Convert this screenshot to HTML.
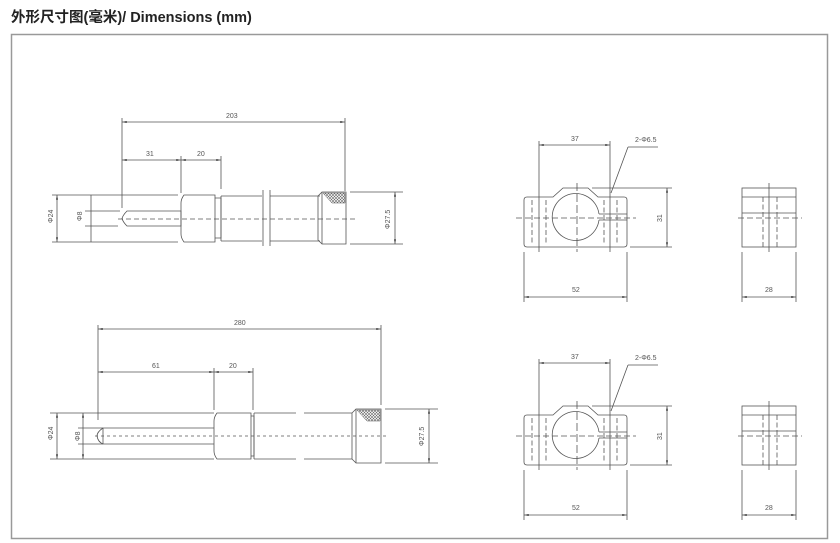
<!DOCTYPE html>
<html><head><meta charset="utf-8"><style>
html,body{margin:0;padding:0;background:#fff;width:840px;height:543px;overflow:hidden}
svg{display:block}
text{font-family:"Liberation Sans",sans-serif;font-size:7px;fill:#555}
.t{font-family:"Liberation Sans","Noto Sans CJK SC",sans-serif;font-size:14.5px;font-weight:bold;fill:#222}
</style></head><body>
<svg width="840" height="543" viewBox="0 0 840 543" xmlns="http://www.w3.org/2000/svg">
<defs>
<pattern id="h" width="3" height="3" patternUnits="userSpaceOnUse">
<rect width="3" height="3" fill="#fff"/><path d="M0 0L3 3M3 0L0 3" stroke="#666" stroke-width="0.6"/></pattern>
<marker id="a" viewBox="0 0 8 4" refX="8" refY="2" markerWidth="6" markerHeight="3" orient="auto-start-reverse"><path d="M0 0L8 2L0 4z" fill="#555"/></marker>
</defs>
<text class="t" x="11" y="22">外形尺寸图(毫米)/ Dimensions (mm)</text>
<rect x="11.5" y="34.5" width="816" height="504" fill="none" stroke="#999" stroke-width="1.5"/>

<g stroke="#555" stroke-width="0.8" fill="none">
<!-- TOP ROD -->
<path d="M122 122H345" marker-start="url(#a)" marker-end="url(#a)"/>
<path d="M122 160H181" marker-start="url(#a)" marker-end="url(#a)"/>
<path d="M181 160H221" marker-start="url(#a)" marker-end="url(#a)"/>
<path d="M122 118V208M181 156V193M221 156V189M345 118V191"/>
<path d="M52 195H178M52 242H178"/>
<path d="M57 195V242" marker-start="url(#a)" marker-end="url(#a)"/>
<path d="M85 211H120M85 226H118"/>
<path d="M91 195V242"/>
<path d="M127 211H181V226H127Q123 222 122 218.5Q123 215 127 211Z"/>
<path d="M184 195H215V242H184Q181 238 181 234V203Q181 199 184 195Z"/>
<path d="M215 198H221V238H215"/>
<path d="M221 196H262M221 241H262M221 196V241"/>
<path d="M263 190V246M270 190V246"/>
<path d="M270 196H320M270 241H320"/>
<path d="M322 192H346V244H322L318 240V196Z"/>
<path d="M322 192V244"/>
<path d="M323 193H345V203H332Z" fill="url(#h)" stroke-width="0.5"/>
<path d="M118 219H355" stroke-dasharray="5 3"/>
<path d="M350 192H403M350 244H403"/>
<path d="M395 192V244" marker-start="url(#a)" marker-end="url(#a)"/>

<!-- BOTTOM ROD -->
<path d="M98 329H381" marker-start="url(#a)" marker-end="url(#a)"/>
<path d="M98 372H214" marker-start="url(#a)" marker-end="url(#a)"/>
<path d="M214 372H253" marker-start="url(#a)" marker-end="url(#a)"/>
<path d="M98 325V420M214 368V410M253 368V410M381 325V405"/>
<path d="M50 413H214M50 459H214"/>
<path d="M57 413V459" marker-start="url(#a)" marker-end="url(#a)"/>
<path d="M78 428H214M78 444H214"/>
<path d="M83 413V459" marker-start="url(#a)" marker-end="url(#a)"/>
<path d="M103 428Q97 432 97 436Q98 442 103 444M103 428V444"/>
<path d="M217 413H251V459H217Q214 455 214 451V421Q214 417 217 413Z"/>
<path d="M251 416H254V456H251"/>
<path d="M254 413H296M254 459H296M254 413V459"/>
<path d="M304 413H352M304 459H352"/>
<path d="M356 409H381V463H356L352 459V413Z"/>
<path d="M356 409V463"/>
<path d="M357 410H380V421H367Z" fill="url(#h)" stroke-width="0.5"/>
<path d="M95 436H388" stroke-dasharray="3 3"/>
<path d="M385 409H438M385 463H438"/>
<path d="M429 409V463" marker-start="url(#a)" marker-end="url(#a)"/>
</g>

<g fill="#555">
<text x="226" y="118">203</text>
<text x="146" y="156">31</text>
<text x="197" y="156">20</text>
<text x="234" y="325">280</text>
<text x="152" y="368">61</text>
<text x="229" y="368">20</text>
<text transform="translate(53 223) rotate(-90)">Φ24</text>
<text transform="translate(82 221) rotate(-90)">Φ8</text>
<text transform="translate(390 229) rotate(-90)">Φ27.5</text>
<text transform="translate(53 440) rotate(-90)">Φ24</text>
<text transform="translate(80 441) rotate(-90)">Φ8</text>
<text transform="translate(424 446) rotate(-90)">Φ27.5</text>
</g>

<g id="blk" stroke="#555" stroke-width="0.8" fill="none">
<path d="M539 145H610" marker-start="url(#a)" marker-end="url(#a)"/>
<path d="M539 141V252M610 141V252"/>
<path d="M628 147H658M628 147L611 193"/>
<path d="M527 197H553L563 188H588L598 197H624Q627 197 627 200V244Q627 247 624 247H527Q524 247 524 244V200Q524 197 527 197Z"/>
<path d="M599 214A23.5 23.5 0 1 0 599 220"/>
<path d="M599 214H627M599 220H627"/>
<path d="M532 200V245M546 200V245M604 200V245M617 200V245" stroke-dasharray="5 2.5"/>
<path d="M516 218H636" stroke-dasharray="6 3"/>
<path d="M577 183V252" stroke-dasharray="8 3"/>
<path d="M592 188H672M630 247H672"/>
<path d="M667 188V247" marker-start="url(#a)" marker-end="url(#a)"/>
<path d="M524 252V302M627 252V302"/>
<path d="M524 297H627" marker-start="url(#a)" marker-end="url(#a)"/>
<rect x="742" y="188" width="54" height="59"/>
<path d="M742 197H796M742 213H796"/>
<path d="M763 197V247M777 197V247" stroke-dasharray="5 2.5"/>
<path d="M738 218H802" stroke-dasharray="6 3"/>
<path d="M769 183V252"/>
<path d="M742 252V302M796 252V302"/>
<path d="M742 297H796" marker-start="url(#a)" marker-end="url(#a)"/>
</g>
<g fill="#555" id="blkt">
<text x="571" y="141">37</text>
<text x="635" y="142">2-Φ6.5</text>
<text transform="translate(662 222) rotate(-90)">31</text>
<text x="572" y="292">52</text>
<text x="765" y="292">28</text>
</g>
<use href="#blk" transform="translate(0 218)"/>
<use href="#blkt" transform="translate(0 218)"/>
</svg>
</body></html>
